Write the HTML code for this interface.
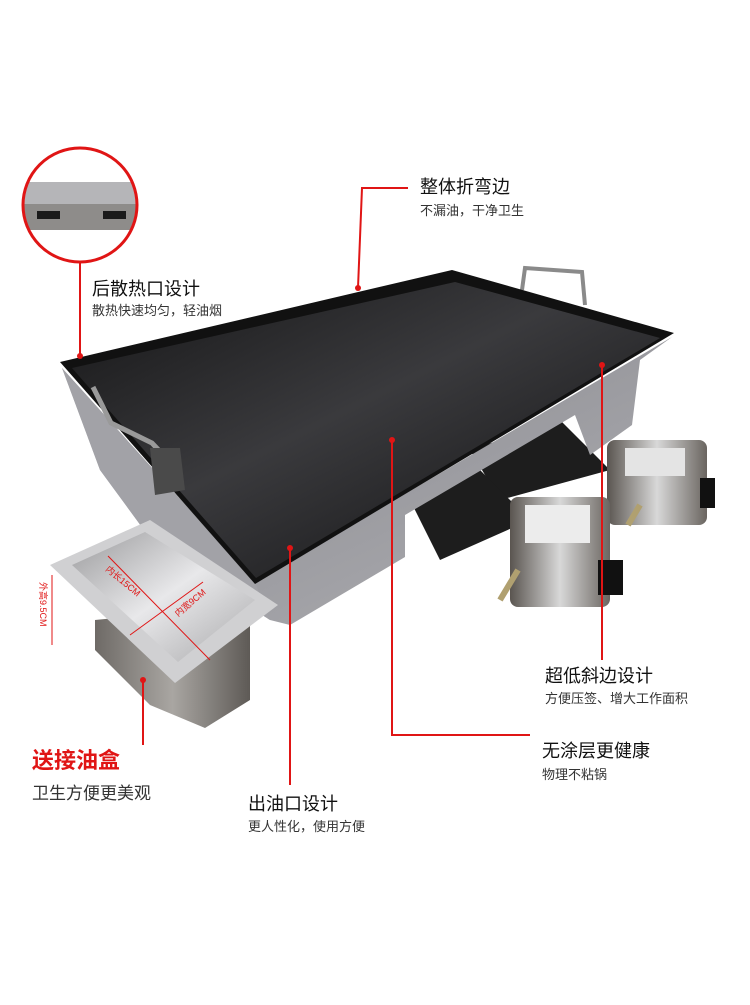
<!DOCTYPE html>
<html><head><meta charset="utf-8"><style>
body{margin:0;background:#fff;}
svg text{font-family:"Liberation Sans","Noto Sans CJK SC",sans-serif;}
</style></head><body>
<svg width="750" height="1000" viewBox="0 0 750 1000" xmlns="http://www.w3.org/2000/svg">
<defs>
<linearGradient id="steel" x1="0" y1="0" x2="1" y2="1">
<stop offset="0" stop-color="#b8b8bc"/><stop offset="0.5" stop-color="#9a9a9f"/><stop offset="1" stop-color="#b0b0b4"/></linearGradient>
<linearGradient id="top" x1="0" y1="0" x2="1" y2="1">
<stop offset="0" stop-color="#151516"/><stop offset="0.45" stop-color="#3a3a3d"/><stop offset="1" stop-color="#0c0c0d"/></linearGradient>
<linearGradient id="box" x1="0" y1="0" x2="1" y2="0">
<stop offset="0" stop-color="#6e6a66"/><stop offset="0.5" stop-color="#a9a6a2"/><stop offset="1" stop-color="#5e5a56"/></linearGradient>
<linearGradient id="bowl" x1="0" y1="0" x2="1" y2="1">
<stop offset="0" stop-color="#9a9a9c"/><stop offset="0.5" stop-color="#e8e8ea"/><stop offset="1" stop-color="#a8a8aa"/></linearGradient>
<linearGradient id="burn" x1="0" y1="0" x2="1" y2="0">
<stop offset="0" stop-color="#5a5550"/><stop offset="0.5" stop-color="#d8d8d8"/><stop offset="1" stop-color="#6a6560"/></linearGradient>
<clipPath id="cc"><circle cx="80" cy="205" r="56"/></clipPath>
</defs>
<g clip-path="url(#cc)">
<rect x="20" y="145" width="120" height="120" fill="#fff"/>
<rect x="20" y="182" width="120" height="22" fill="#b5b5b8"/>
<rect x="20" y="204" width="120" height="26" fill="#8e8c8a"/>
<rect x="37" y="211" width="23" height="8" fill="#1a1a1a"/>
<rect x="103" y="211" width="23" height="8" fill="#1a1a1a"/>
</g>
<circle cx="80" cy="205" r="57" fill="none" stroke="#e01515" stroke-width="3"/>
<line x1="80" y1="262" x2="80" y2="355" stroke="#e01515" stroke-width="2"/>
<text x="92" y="295" font-size="18" fill="#111">后散热口设计</text>
<text x="92" y="315" font-size="13" fill="#333">散热快速均匀，轻油烟</text>
<path d="M522 290 L525 268 L582 272 L585 305" fill="none" stroke="#8a8a8a" stroke-width="4"/>
<!-- burners -->
<polygon points="470,450 560,420 610,470 500,500" fill="#1d1d1d"/>
<polygon points="410,500 480,470 530,520 440,560" fill="#1d1d1d"/>
<rect x="607" y="440" width="100" height="85" rx="8" fill="url(#burn)"/>
<rect x="625" y="448" width="60" height="28" fill="#e4e4e4"/>
<rect x="700" y="478" width="15" height="30" fill="#111"/>
<rect x="510" y="497" width="100" height="110" rx="8" fill="url(#burn)"/>
<rect x="525" y="505" width="65" height="38" fill="#ececec"/>
<rect x="598" y="560" width="25" height="35" fill="#111"/>
<line x1="518" y1="570" x2="500" y2="600" stroke="#b0a070" stroke-width="6"/>
<line x1="640" y1="505" x2="628" y2="525" stroke="#b0a070" stroke-width="6"/>
<!-- body -->
<polygon points="62,368 100,470 155,545 270,620 290,625 405,557 405,515 575,415 590,455 632,425 640,360 672,337 255,582" fill="url(#steel)"/>
<polygon points="62,368 255,582 270,620 155,545 100,470" fill="#a2a2a7"/>
<!-- top plate -->
<polygon points="60,362 452,270 674,333 255,584" fill="#111"/>
<polygon points="72,368 455,282 660,338 256,578" fill="url(#top)"/>
<path d="M93 387 L111 423 L152 443 L168 460" fill="none" stroke="#9a9a9a" stroke-width="5"/>
<polygon points="150,448 180,448 185,490 155,495" fill="#4a4a4a"/>
<!-- oil box -->
<polygon points="95,620 250,605 250,700 205,728 150,705 95,650" fill="url(#box)"/>
<polygon points="50,565 150,520 278,605 175,683" fill="#d0d0d2"/>
<polygon points="72,565 145,532 255,600 178,662" fill="url(#bowl)"/>
<line x1="108" y1="556" x2="210" y2="660" stroke="#e01515" stroke-width="1"/>
<line x1="203" y1="582" x2="130" y2="635" stroke="#e01515" stroke-width="1"/>
<text x="0" y="0" font-size="9" fill="#e01515" transform="translate(105 570) rotate(40)">内长15CM</text>
<text x="0" y="0" font-size="9" fill="#e01515" transform="translate(178 617) rotate(-40)">内宽9CM</text>
<line x1="52" y1="575" x2="52" y2="645" stroke="#e01515" stroke-width="1"/>
<text x="0" y="0" font-size="9" fill="#e01515" transform="translate(40 582) rotate(90)">外高9.5CM</text>
<g stroke="#e01515" stroke-width="2" fill="none">
<polyline points="408,188 362,188 358,288"/>
<line x1="602" y1="365" x2="602" y2="660"/>
<polyline points="392,440 392,735 530,735"/>
<line x1="290" y1="548" x2="290" y2="785"/>
<line x1="143" y1="680" x2="143" y2="745"/>
</g>
<g fill="#e01515">
<circle cx="80" cy="356" r="3"/><circle cx="358" cy="288" r="3"/><circle cx="602" cy="365" r="3"/>
<circle cx="392" cy="440" r="3"/><circle cx="290" cy="548" r="3"/><circle cx="143" cy="680" r="3"/>
</g>
<text x="420" y="193" font-size="18" fill="#111">整体折弯边</text>
<text x="420" y="215" font-size="13" fill="#333">不漏油，干净卫生</text>
<text x="545" y="682" font-size="18" fill="#111">超低斜边设计</text>
<text x="545" y="703" font-size="13" fill="#333">方便压签、增大工作面积</text>
<text x="542" y="757" font-size="18" fill="#111">无涂层更健康</text>
<text x="542" y="779" font-size="13" fill="#333">物理不粘锅</text>
<text x="248" y="810" font-size="18" fill="#111">出油口设计</text>
<text x="248" y="831" font-size="13" fill="#333">更人性化，使用方便</text>
<text x="32" y="768" font-size="22" font-weight="bold" fill="#e01515">送接油盒</text>
<text x="32" y="799" font-size="17" fill="#333">卫生方便更美观</text>
</svg>
</body></html>
